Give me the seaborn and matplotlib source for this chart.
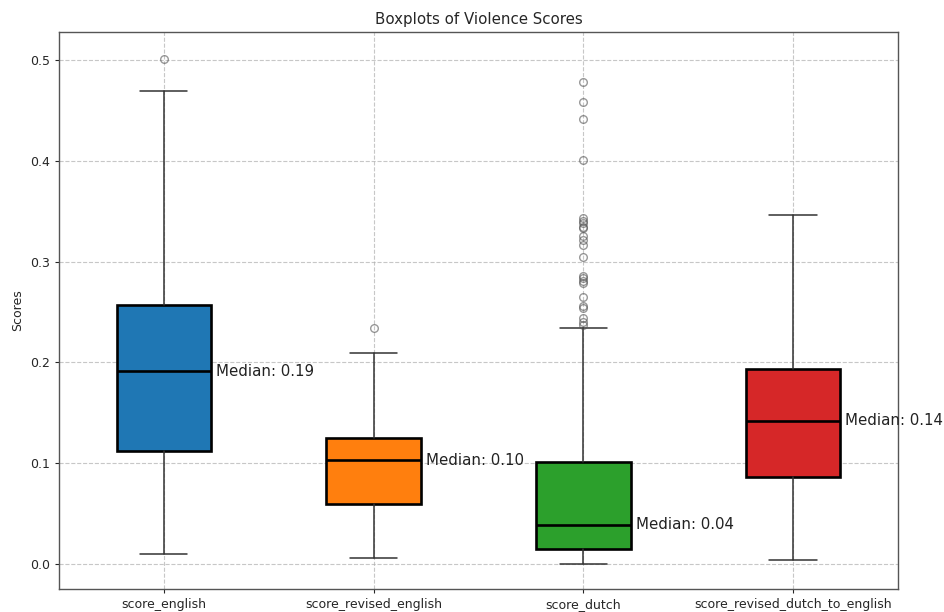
import matplotlib
matplotlib.use("Agg")
import matplotlib.pyplot as plt
import seaborn as sns

sns.set_style("white")
plt.rcParams['font.family'] = ['DejaVu Sans']

categories = ["score_english", "score_revised_english", "score_dutch", "score_revised_dutch_to_english"]
colors = ["#1f77b4", "#ff7f0e", "#2ca02c", "#d62728"]
whisker_low = [0.0099, 0.006, 0.0, 0.0033]
q1 = [0.112, 0.0595, 0.0149, 0.086]
median = [0.191, 0.103, 0.0387, 0.142]
q3 = [0.257, 0.125, 0.101, 0.193]
whisker_high = [0.469, 0.209, 0.234, 0.3466]
outliers = [
    [0.501],
    [0.234],
    [0.4785, 0.4587, 0.4415, 0.4008, 0.3436, 0.340, 0.338, 0.3346, 0.333,
     0.3257, 0.3214, 0.317, 0.3049, 0.286, 0.2834, 0.281, 0.2785, 0.2646,
     0.256, 0.2536, 0.2437, 0.2404, 0.2371],
    [],
]
median_labels = ["Median: 0.19", "Median: 0.10", "Median: 0.04", "Median: 0.14"]

stats = []
for i, c in enumerate(categories):
    stats.append(dict(label=c, whislo=whisker_low[i], q1=q1[i], med=median[i],
                      q3=q3[i], whishi=whisker_high[i], fliers=outliers[i]))

fig = plt.figure(figsize=(9.44, 6.12), dpi=100)
ax = fig.add_axes([0.0625, 0.0376, 0.8887, 0.9101])

bp = ax.bxp(stats, positions=range(1, 5), widths=0.45, patch_artist=True,
            boxprops=dict(edgecolor="black", linewidth=1.9),
            medianprops=dict(color="black", linewidth=1.9),
            whiskerprops=dict(color="#333333", linewidth=1.1),
            capprops=dict(color="#333333", linewidth=1.1),
            flierprops=dict(marker="o", markerfacecolor="none",
                            markeredgecolor="#555555", alpha=0.6, markersize=5.5))
for patch, col in zip(bp["boxes"], colors):
    patch.set_facecolor(col)

for i, lab in enumerate(median_labels):
    ax.text(i + 1 + 0.25, median[i], lab, va="center", ha="left", fontsize=10.8,
            color="#222222", clip_on=False)

ax.set_xlim(0.5, 4.5)
ax.set_ylim(-0.025, 0.528)
ax.set_yticks([0.0, 0.1, 0.2, 0.3, 0.4, 0.5])
ax.set_title("Boxplots of Violence Scores", fontsize=10.8)
ax.set_ylabel("Scores", fontsize=9)
ax.grid(True, linestyle="--", alpha=0.7, color="#b0b0b0")
ax.tick_params(axis="both", which="both", length=3.2, labelsize=9, left=True, bottom=True)
for s in ax.spines.values():
    s.set_color("#555555")
    s.set_linewidth(1.0)

fig.savefig("out.png", dpi=100)
